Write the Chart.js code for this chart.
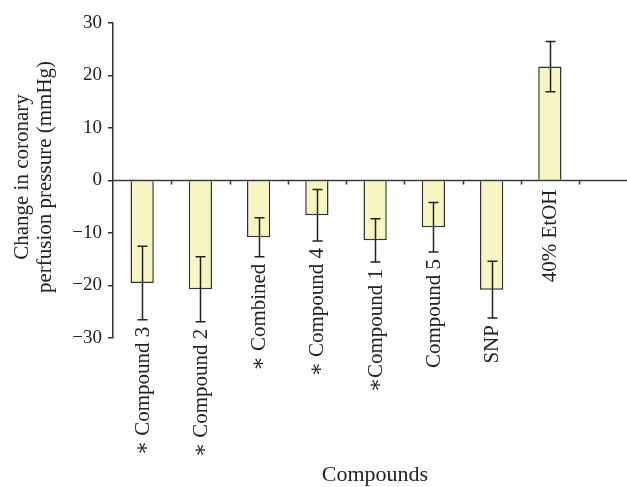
<!DOCTYPE html>
<html>
<head>
<meta charset="utf-8">
<script src="https://cdn.jsdelivr.net/npm/chart.js@4"></script>
<style>
  html, body { margin: 0; padding: 0; background: #fff; }
  #wrap { width: 627px; height: 487px; }
</style>
</head>
<body>
<div id="wrap"><canvas id="chart" width="627" height="487"></canvas></div>
<script>
// Chart data
const categories = ['\u2217 Compound 3', '\u2217 Compound 2', '\u2217 Combined', '\u2217 Compound 4',
                    '\u2217Compound 1', 'Compound 5', 'SNP', '40% EtOH'];
const changeValues = [-19.5, -20.7, -10.8, -6.6, -11.4, -8.9, -20.8, 21.7];
const errorValues = [7.0, 6.2, 3.7, 4.9, 4.1, 4.7, 5.4, 4.8];
const yTicks = [-30, -20, -10, 0, 10, 20, 30];

const serif = '"Liberation Serif", "DejaVu Serif", serif';
const ink = '#222';

// Draws error bars, zero line, category ticks, rotated labels and titles
const extrasPlugin = {
    id: 'extras',
    afterDatasetsDraw(chart) {
        const ctx = chart.ctx;
        const area = chart.chartArea;
        const x = chart.scales.x;
        const y = chart.scales.y;
        const y0 = y.getPixelForValue(0);
        const meta = chart.getDatasetMeta(0);

        ctx.save();
        // zero line
        ctx.strokeStyle = '#3a3a3a';
        ctx.lineWidth = 1.6;
        ctx.beginPath();
        ctx.moveTo(area.left, y0);
        ctx.lineTo(chart.width, y0);
        ctx.stroke();

        // category boundary ticks
        const step = x.getPixelForValue(1) - x.getPixelForValue(0);
        for (let i = 1; i <= categories.length; i++) {
            const tx = Math.round(x.getPixelForValue(i) - step / 2) + 0.5;
            ctx.beginPath();
            ctx.moveTo(tx, y0);
            ctx.lineTo(tx, y0 + 4);
            ctx.stroke();
        }

        // error bars
        ctx.strokeStyle = ink;
        ctx.lineWidth = 1.5;
        meta.data.forEach((bar, i) => {
            const v = changeValues[i], e = errorValues[i];
            const top = y.getPixelForValue(v + e);
            const bot = y.getPixelForValue(v - e);
            const bx = Math.round(bar.x) + 0.5;
            ctx.beginPath();
            ctx.moveTo(bx, top); ctx.lineTo(bx, bot);
            ctx.moveTo(bx - 5, top); ctx.lineTo(bx + 5, top);
            ctx.moveTo(bx - 5, bot); ctx.lineTo(bx + 5, bot);
            ctx.stroke();
        });

        // category labels, rotated, hung below each bar
        ctx.fillStyle = ink;
        ctx.font = '21px ' + serif;
        ctx.textAlign = 'right';
        ctx.textBaseline = 'middle';
        meta.data.forEach((bar, i) => {
            const v = changeValues[i], e = errorValues[i];
            const anchor = v < 0 ? y.getPixelForValue(v - e) + 7 : y0 + 9;
            ctx.save();
            ctx.translate(bar.x, anchor);
            ctx.rotate(-Math.PI / 2);
            ctx.fillText(categories[i], 0, 1);
            ctx.restore();
        });

        // axis titles
        ctx.textAlign = 'center';
        ctx.textBaseline = 'alphabetic';
        ctx.font = '22px ' + serif;
        ctx.fillText('Compounds', (area.left + chart.width) / 2 + 5, 481);

        ctx.font = '21px ' + serif;
        ctx.save();
        ctx.translate(28, 177);
        ctx.rotate(-Math.PI / 2);
        ctx.fillText('Change in coronary', 0, 0);
        ctx.fillText('perfusion pressure (mmHg)', 0, 23);
        ctx.restore();

        ctx.restore();
    }
};

new Chart(document.getElementById('chart'), {
    type: 'bar',
    data: {
        labels: categories,
        datasets: [{
            data: changeValues,
            backgroundColor: '#f7f5c1',
            borderColor: '#333',
            borderWidth: 1.5,
            barPercentage: 0.4,
            categoryPercentage: 1.0
        }]
    },
    options: {
        responsive: false,
        animation: false,
        layout: { padding: { top: 23, right: 48, bottom: 149, left: 0 } },
        plugins: {
            legend: { display: false },
            tooltip: { enabled: false }
        },
        scales: {
            x: { display: false },
            y: {
                min: -30,
                max: 30,
                afterFit(scale) { scale.width = 113; },
                afterBuildTicks(scale) { scale.ticks = yTicks.map(v => ({ value: v })); },
                border: { display: true, color: '#333', width: 1.5 },
                grid: { drawOnChartArea: false, tickLength: 5, tickColor: '#333', lineWidth: 1.5 },
                ticks: {
                    color: ink,
                    padding: 6,
                    font: { family: serif, size: 19 },
                    callback: v => v < 0 ? '\u2212' + Math.abs(v) : String(v)
                }
            }
        }
    },
    plugins: [extrasPlugin]
});
</script>
</body>
</html>
